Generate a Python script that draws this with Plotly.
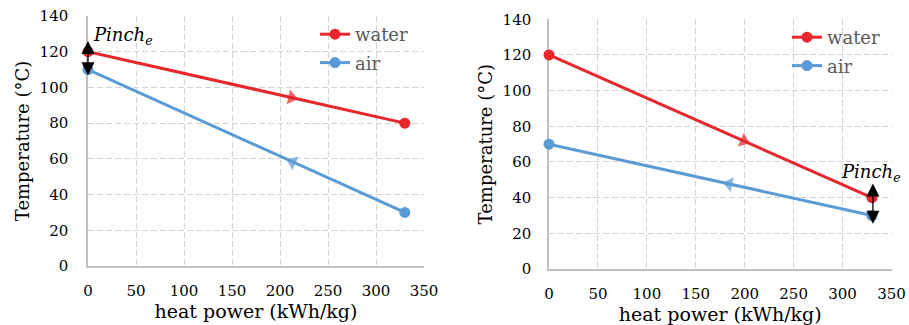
import plotly.graph_objects as go

# ---- data ----
water_left_x = [0, 330]
water_left_y = [120, 80]
water_left_arrow = (212, 94.3)
air_left_x = [330, 0]
air_left_y = [30, 110]
air_left_arrow = (213, 58.2)

water_right_x = [0, 330]
water_right_y = [120, 40]
water_right_arrow = (199, 71.8)
air_right_x = [330, 0]
air_right_y = [30, 70]
air_right_arrow = (184, 47.7)

x_ticks = [0, 50, 100, 150, 200, 250, 300, 350]
y_ticks = [0, 20, 40, 60, 80, 100, 120, 140]

pinch_left = dict(x=0, y_top=126, y_bot=106)
pinch_right = dict(x=331, y_top=48, y_bot=24.5)

RED = "#E8262B"
BLUE = "#5B9BD5"
FONT = "DejaVu Serif"

fig = go.Figure()

def add(x, y, arrow, name, color, xa, ya, legend):
    fig.add_trace(go.Scatter(
        x=x, y=y, name=name, mode="lines+markers",
        line=dict(color=color, width=3),
        marker=dict(color=color, symbol="circle", size=11, line=dict(width=0)),
        xaxis=xa, yaxis=ya, legend=legend, legendgroup=name + xa, cliponaxis=False,
    ))
    # direction arrow on the line (oriented from the start point)
    fig.add_trace(go.Scatter(
        x=[x[0], arrow[0]], y=[y[0], arrow[1]], mode="markers",
        marker=dict(color=color, symbol=["circle", "triangle-up"], size=[0, 13],
                    angleref="previous", line=dict(width=0)),
        xaxis=xa, yaxis=ya, showlegend=False, hoverinfo="skip",
    ))

add(water_left_x, water_left_y, water_left_arrow, "water", RED, "x", "y", "legend")
add(air_left_x, air_left_y, air_left_arrow, "air", BLUE, "x", "y", "legend")
add(water_right_x, water_right_y, water_right_arrow, "water", RED, "x2", "y2", "legend2")
add(air_right_x, air_right_y, air_right_arrow, "air", BLUE, "x2", "y2", "legend2")

axis_common = dict(
    showgrid=True, gridcolor="#D4D4D4", griddash="6px,3px", gridwidth=1,
    showline=True, linecolor="#BFBFBF", linewidth=1.5,
    zeroline=False, ticks="outside", tickcolor="rgba(0,0,0,0)",
    tickfont=dict(family=FONT, size=15, color="#000"),
    automargin=False, ticklabeloverflow="allow", layer="below traces",
)

L, R, T, B = 88, 15, 16, 56
W, H = 909, 325
pw = W - L - R
ph = H - T - B

def px_x(p):
    return min(1.0, max(0.0, (p - L) / pw))

def px_y(p):
    return min(1.0, max(0.0, (H - B - p) / ph))

fig.update_layout(
    width=W, height=H,
    margin=dict(l=L, r=R, t=T, b=B, autoexpand=False),
    paper_bgcolor="white", plot_bgcolor="white",
    font=dict(family=FONT, color="#000"),
    xaxis=dict(domain=[0, px_x(424)], range=[0, 350], tickvals=x_ticks, ticklen=10,
               title=dict(text="heat power (kWh/kg)", font=dict(size=19), standoff=4),
               anchor="y", **axis_common),
    yaxis=dict(domain=[px_y(266), 1], range=[0, 140], tickvals=y_ticks, ticklen=15,
               title=dict(text="Temperature (°C)", font=dict(size=18), standoff=5),
               anchor="x", **axis_common),
    xaxis2=dict(domain=[px_x(549), px_x(891.5)], range=[0, 350], tickvals=x_ticks, ticklen=10,
                title=dict(text="heat power (kWh/kg)", font=dict(size=19), standoff=4),
                anchor="y2", **axis_common),
    yaxis2=dict(domain=[0, px_y(19.3)], range=[0, 140], tickvals=y_ticks, ticklen=13,
                title=dict(text="Temperature (°C)", font=dict(size=18), standoff=5),
                anchor="x2", **axis_common),
    legend=dict(x=px_x(315), y=px_y(13), xanchor="left", yanchor="top",
                bgcolor="rgba(0,0,0,0)", font=dict(family=FONT, size=18, color="#595959"),
                tracegroupgap=2),
    legend2=dict(x=px_x(787), y=px_y(19), xanchor="left", yanchor="top",
                 bgcolor="rgba(0,0,0,0)", font=dict(family=FONT, size=18, color="#595959"),
                 tracegroupgap=2),
    showlegend=True,
)

for p, xr, yr in [(pinch_left, "x", "y"), (pinch_right, "x2", "y2")]:
    fig.add_annotation(
        x=p["x"], y=p["y_top"], ax=p["x"], ay=p["y_bot"],
        xref=xr, yref=yr, axref=xr, ayref=yr,
        showarrow=True, arrowside="end+start", arrowhead=2, startarrowhead=2,
        arrowsize=2.0, startarrowsize=2.0, arrowwidth=1.3, arrowcolor="#000", text="",
    )

fig.add_annotation(x=0, y=129, xref="x", yref="y", xanchor="left", yanchor="middle",
                   text="<i>Pinch<sub>e</sub></i>", showarrow=False, xshift=3,
                   font=dict(family=FONT, size=18, color="#000"))
fig.add_annotation(x=331, y=54, xref="x2", yref="y2", xanchor="center", yanchor="middle",
                   text="<i>Pinch<sub>e</sub></i>", showarrow=False, xshift=-2,
                   font=dict(family=FONT, size=18, color="#000"))

fig.write_html("out.html")
